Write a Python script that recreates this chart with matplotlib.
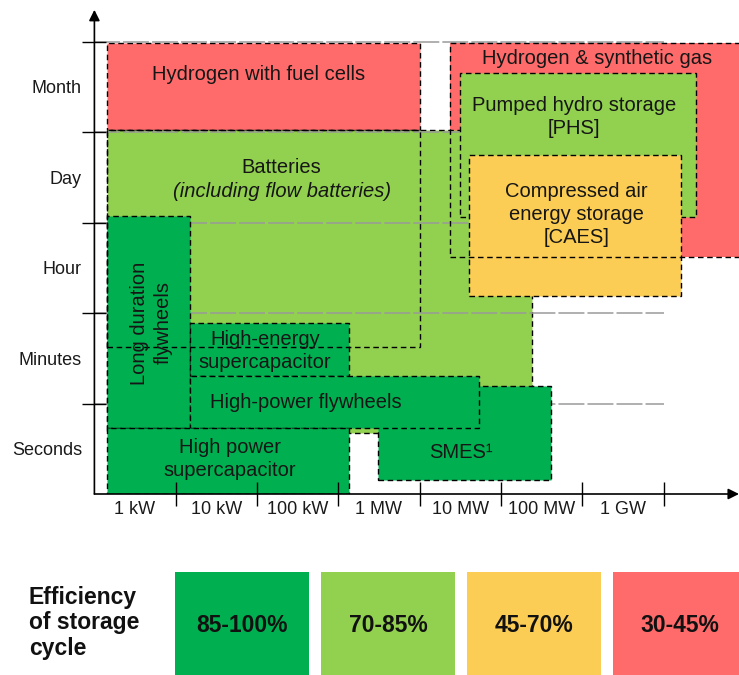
"""
Storage technologies by power rating and discharge time, coloured by cycle efficiency.
"""
import matplotlib.pyplot as plt
from matplotlib.patches import Rectangle

plt.rcParams['font.family'] = ['Liberation Sans', 'DejaVu Sans']

power_labels = ['1 kW', '10 kW', '100 kW', '1 MW', '10 MW', '100 MW', '1 GW']
time_labels = ['Seconds', 'Minutes', 'Hour', 'Day', 'Month']

efficiency_labels = ['85-100%', '70-85%', '45-70%', '30-45%']
efficiency_colors = ['#00B050', '#92D050', '#FCCD55', '#FF6B6B']

# ranges on the category scales: x in power decades (0 = start of 1 kW),
# y in time bands (0 = start of Seconds)
tech_names = ['Hydrogen with fuel cells', 'Hydrogen & synthetic gas', 'Batteries',
              'Pumped hydro storage', 'Compressed air energy storage', 'SMES',
              'Long duration flywheels', 'High-energy supercapacitor',
              'High-power flywheels', 'High power supercapacitor']
tech_power_min = [0.15, 4.37, 0.15, 4.50, 4.61, 3.49, 0.15, 1.18, 1.18, 0.16]
tech_power_max = [4.00, 8.30, 5.38, 7.40, 7.21, 5.62, 1.18, 3.13, 4.73, 3.13]
tech_time_min = [4.02, 2.62, 0.67, 3.06, 2.19, 0.155, 0.73, 1.30, 0.73, 0.00]
tech_time_max = [4.98, 4.98, 4.02, 4.65, 3.75, 1.19, 3.07, 1.89, 1.30, 0.73]
tech_efficiency = [3, 3, 1, 1, 2, 0, 0, 0, 0, 0]

# core range of batteries (drawn as outline only)
battery_core_power = [0.15, 4.00]
battery_core_time = [1.62, 4.02]

W, H = 739, 675
fig = plt.figure(figsize=(W / 100, H / 100), dpi=100)

# main chart: 81.3 px per power decade, 90.5 px per time band
x0_px, y0_px = 94.4, 494
ax = fig.add_axes([x0_px / W, (H - y0_px) / H, (W - x0_px) / W, y0_px / H])
ax.set_xlim(0, (W - x0_px) / 81.3)
ax.set_ylim(0, y0_px / 90.5)
for s in ax.spines.values():
    s.set_visible(False)

dash = (0, (4, 2.6))
box_text = dict(fontsize=14.5, ha='center', va='center', color='#161616', linespacing=1.26)

for i, name in enumerate(tech_names):
    x0, x1 = tech_power_min[i], tech_power_max[i]
    y0, y1 = tech_time_min[i], tech_time_max[i]
    edge = 'none' if name == 'Hydrogen & synthetic gas' else 'black'
    ax.add_patch(Rectangle((x0, y0), x1 - x0, y1 - y0,
                           facecolor=efficiency_colors[tech_efficiency[i]],
                           edgecolor=edge, lw=1.0, linestyle=dash, zorder=2 + i))

# borders that sit on top of everything
i = tech_names.index('Hydrogen & synthetic gas')
ax.add_patch(Rectangle((tech_power_min[i], tech_time_min[i]),
                       tech_power_max[i] - tech_power_min[i],
                       tech_time_max[i] - tech_time_min[i],
                       facecolor='none', edgecolor='black', lw=1.0, linestyle=dash, zorder=20))
ax.add_patch(Rectangle((battery_core_power[0], battery_core_time[0]),
                       battery_core_power[1] - battery_core_power[0],
                       battery_core_time[1] - battery_core_time[0],
                       facecolor='none', edgecolor='black', lw=1.0, linestyle=dash, zorder=20))

# band separators (over batteries, under the rest)
ax.hlines(range(1, len(time_labels) + 1), 0, len(power_labels), colors='#9a9a9a',
          lw=1.1, linestyles=[(0, (17, 2))], zorder=4.5)

# labels
ax.text(2.02, 4.64, 'Hydrogen with fuel cells', zorder=30, **box_text)
ax.text(6.18, 4.81, 'Hydrogen & synthetic gas', zorder=30, **box_text)
ax.text(2.30, 3.61, 'Batteries', zorder=30, **box_text)
ax.text(2.31, 3.34, '(including flow batteries)', style='italic', zorder=30, **box_text)
ax.text(5.90, 4.17, 'Pumped hydro storage\n[PHS]', zorder=30, **box_text)
ax.text(5.93, 3.09, 'Compressed air\nenergy storage\n[CAES]', zorder=30, **box_text)
ax.text(4.51, 0.46, 'SMES\u00b9', zorder=30, **box_text)
ax.text(0.70, 1.89, 'Long duration\nflywheels', rotation=90, zorder=30, **box_text)
ax.text(2.10, 1.58, 'High-energy\nsupercapacitor', zorder=30, **box_text)
ax.text(2.60, 1.01, 'High-power flywheels', zorder=30, **box_text)
ax.text(1.67, 0.385, 'High power\nsupercapacitor', zorder=30, **box_text)

# axes with arrow heads
arrow = dict(arrowstyle='-|>', color='black', lw=1.2, mutation_scale=16,
             shrinkA=0, shrinkB=0)
ax.annotate('', xy=(0, 5.35), xytext=(0, 0), arrowprops=arrow,
            annotation_clip=False, zorder=40)
ax.annotate('', xy=(ax.get_xlim()[1], 0), xytext=(0, 0), arrowprops=arrow,
            annotation_clip=False, zorder=40)

# ticks at band borders, labels centred in bands
ax.set_xticks(range(1, len(power_labels) + 1))
ax.set_yticks(range(1, len(time_labels) + 1))
ax.set_xticklabels([])
ax.set_yticklabels([])
ax.set_xticks([k + 0.5 for k in range(len(power_labels))], minor=True)
ax.set_yticks([k + 0.5 for k in range(len(time_labels))], minor=True)
ax.set_xticklabels(power_labels, minor=True, fontsize=13, color='#1a1a1a')
ax.set_yticklabels(time_labels, minor=True, fontsize=13, color='#1a1a1a')
ax.tick_params(which='major', direction='inout', length=17, width=1.0, color='black')
ax.tick_params(which='minor', length=0)
ax.tick_params(axis='x', which='minor', pad=5)
ax.tick_params(axis='y', which='minor', pad=9)
ax.xaxis.set_zorder(35)
ax.yaxis.set_zorder(35)

# efficiency legend
leg = fig.add_axes([0, 0, 1, 1], zorder=-1)
leg.set_xlim(0, W)
leg.set_ylim(H, 0)
leg.axis('off')
leg.text(29, 623, 'Efficiency\nof storage\ncycle', fontsize=16.5, fontweight='bold',
         ha='left', va='center', linespacing=1.12, color='#111111')
for k, (lab, col) in enumerate(zip(efficiency_labels, efficiency_colors)):
    left = 175 + k * 146.1
    leg.add_patch(Rectangle((left, 572), 134, 110, facecolor=col, edgecolor='none'))
    leg.text(left + 67, 625, lab, fontsize=16.5, fontweight='bold',
             ha='center', va='center', color='#111111')

fig.savefig('out.png', dpi=100)
